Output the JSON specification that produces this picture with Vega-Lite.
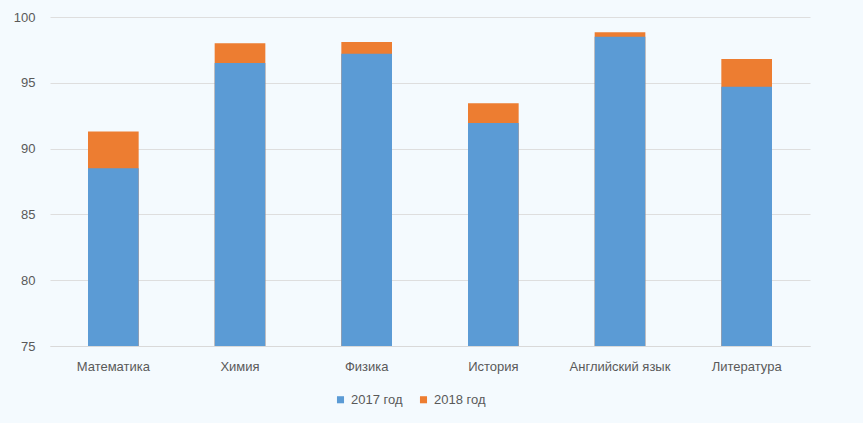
{
  "$schema": "https://vega.github.io/schema/vega-lite/v6.json",
  "width": 760,
  "height": 329,
  "autosize": {"type": "none"},
  "padding": {"left": 50, "top": 17, "right": 53, "bottom": 77},
  "background": "#f4fafe",
  "config": {
    "view": {"stroke": null},
    "font": "Liberation Sans",
    "axis": {"labelFont": "Liberation Sans", "labelColor": "#595959", "labelFontSize": 13}
  },
  "data": {
    "values": [
      {"subject": "Математика", "year": "2018 год", "value": 91.3},
      {"subject": "Химия", "year": "2018 год", "value": 98.0},
      {"subject": "Физика", "year": "2018 год", "value": 98.1},
      {"subject": "История", "year": "2018 год", "value": 93.45},
      {"subject": "Английский язык", "year": "2018 год", "value": 98.85},
      {"subject": "Литература", "year": "2018 год", "value": 96.8},
      {"subject": "Математика", "year": "2017 год", "value": 88.5},
      {"subject": "Химия", "year": "2017 год", "value": 96.5},
      {"subject": "Физика", "year": "2017 год", "value": 97.2},
      {"subject": "История", "year": "2017 год", "value": 91.95},
      {"subject": "Английский язык", "year": "2017 год", "value": 98.5},
      {"subject": "Литература", "year": "2017 год", "value": 94.7}
    ]
  },
  "mark": {"type": "bar", "clip": true},
  "encoding": {
    "x": {
      "field": "subject",
      "type": "nominal",
      "sort": null,
      "title": null,
      "scale": {"paddingInner": 0.6, "paddingOuter": 0.3},
      "axis": {"labelAngle": 0, "ticks": false, "domainColor": "#d9d9d9", "domainWidth": 1, "labelPadding": 14}
    },
    "y": {
      "field": "value",
      "type": "quantitative",
      "stack": null,
      "title": null,
      "scale": {"domain": [75, 100], "nice": false, "zero": false},
      "axis": {"values": [75, 80, 85, 90, 95, 100], "ticks": false, "domain": false, "gridColor": "#dedede", "labelPadding": 15}
    },
    "color": {
      "field": "year",
      "type": "nominal",
      "title": null,
      "scale": {"domain": ["2017 год", "2018 год"], "range": ["#5b9bd5", "#ed7d31"]},
      "legend": {
        "orient": "none",
        "legendX": 284,
        "legendY": 376,
        "direction": "horizontal",
        "symbolType": "square",
        "symbolSize": 50,
        "labelFontSize": 13,
        "labelColor": "#595959",
        "columnPadding": 14
      }
    }
  }
}
